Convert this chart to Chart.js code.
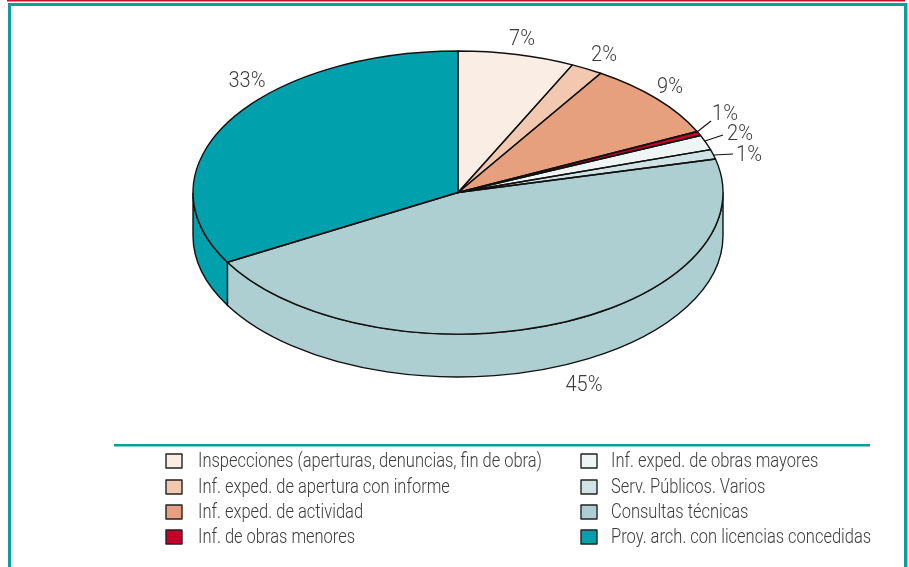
<!DOCTYPE html>
<html><head><meta charset="utf-8">
<style>html,body{margin:0;padding:0;background:#fff;overflow:hidden}canvas{display:block}</style>
<script src="https://cdn.jsdelivr.net/npm/chart.js@4/dist/chart.umd.min.js"></script>
</head><body><canvas id="c" width="909" height="567"></canvas>
<script>
const categories = ["Inspecciones (aperturas, denuncias, fin de obra)","Inf. exped. de apertura con informe","Inf. exped. de actividad","Inf. de obras menores","Inf. exped. de obras mayores","Serv. Públicos. Varios","Consultas técnicas","Proy. arch. con licencias concedidas"];
const values = [7.1,1.95,8.85,0.5,1.7,1.1,45.6,33.2];
const valueLabels = ["7%","2%","9%","1%","2%","1%","45%","33%"];
const colors = ["#FAEDE4","#F2C8B0","#E6A07E","#C4002A","#EFF5F5","#CFE2E4","#ADCFD2","#00A0AC"];

const RX=265, RY=141.5, DEPTH=43;
const FONT='Roboto,"Liberation Sans",sans-serif';
const TEAL='#0A9E9E', INK='#3C3C3C';
const labelPos=[[522,39.5],[604,55.5],[670,87.5],[725,114.5],[740,134.5],[749,155.5],[584,385.5],[247,81.5]];
const leaders=[null,null,null,[697,132,711,121],[705,141,723,135],[714,155,733,154],null,null];
const legendCols=[[166,198],[581,611]], legendRows=[461,487,512,537];

function squeezed(c,t,x,y,sx){c.save();c.translate(x,y);c.scale(sx,1);c.fillText(t,0,0);c.restore();}

const pie3d={id:'pie3d',
 beforeDraw(chart){
  const c=chart.ctx;c.save();
  c.fillStyle='#C8102E';c.fillRect(7,0,898,1.5);
  c.fillStyle='#8FD6D6';c.fillRect(905,3,3,564);
  c.fillStyle=TEAL;c.fillRect(8,3,899,3);c.fillRect(8,3,3,564);c.fillRect(904,3,3,564);
  c.fillRect(114,444,756,2.5);
  c.restore();
 },
 beforeDatasetsDraw(chart){
  const c=chart.ctx, arcs=chart.getDatasetMeta(0).data;
  const {x:cx,y:cy}=arcs[0];
  c.save();c.lineWidth=1.4;c.strokeStyle='#111';
  arcs.forEach((a,i)=>{
   const s=Math.max(a.startAngle,0), e=Math.min(a.endAngle,Math.PI);
   if(e<=s)return;
   c.beginPath();
   c.ellipse(cx,cy,RX,RY,0,s,e);
   c.ellipse(cx,cy+DEPTH,RX,RY,0,e,s,true);
   c.closePath();
   c.fillStyle=colors[i];c.fill();c.stroke();
  });
  c.restore();
  const r=arcs[0].outerRadius;
  c.save();
  c.translate(cx,cy);c.scale(RX/r,RY/r);c.translate(-cx,-cy);
 },
 afterDatasetsDraw(chart){
  const c=chart.ctx, arcs=chart.getDatasetMeta(0).data;
  c.restore();
  const {x:cx,y:cy}=arcs[0];
  c.save();c.lineWidth=1.4;c.strokeStyle='#111';c.lineJoin='round';
  arcs.forEach(a=>{
   c.beginPath();c.moveTo(cx,cy);
   c.ellipse(cx,cy,RX,RY,0,a.startAngle,a.endAngle);
   c.closePath();c.stroke();
  });
  c.lineWidth=1.2;
  leaders.forEach(l=>{if(!l)return;c.beginPath();c.moveTo(l[0],l[1]);c.lineTo(l[2],l[3]);c.stroke();});
  c.fillStyle=INK;c.textAlign='center';c.textBaseline='middle';
  c.font='300 22px '+FONT;
  const pctScale=37/c.measureText('33%').width;
  valueLabels.forEach((t,i)=>squeezed(c,t,labelPos[i][0],labelPos[i][1],pctScale));
  c.font='300 21px '+FONT;c.textAlign='left';
  const legScale=344/c.measureText(categories[0]).width;
  categories.forEach((t,i)=>{
   const col=legendCols[i<4?0:1], y=legendRows[i%4];
   c.fillStyle=colors[i];c.strokeStyle='#222';c.lineWidth=1.4;
   c.fillRect(col[0],y-7,16,14);c.strokeRect(col[0],y-7,16,14);
   c.fillStyle=INK;squeezed(c,t,col[1],y+1,legScale);
  });
  c.restore();
 }
};

new Chart(document.getElementById('c'),{
 type:'pie',
 data:{labels:categories,datasets:[{data:values,backgroundColor:colors,borderWidth:0}]},
 options:{responsive:false,animation:false,
  layout:{padding:{left:193,right:186,top:52,bottom:234}},
  plugins:{legend:{display:false},tooltip:{enabled:false}}},
 plugins:[pie3d]
});
</script></body></html>
